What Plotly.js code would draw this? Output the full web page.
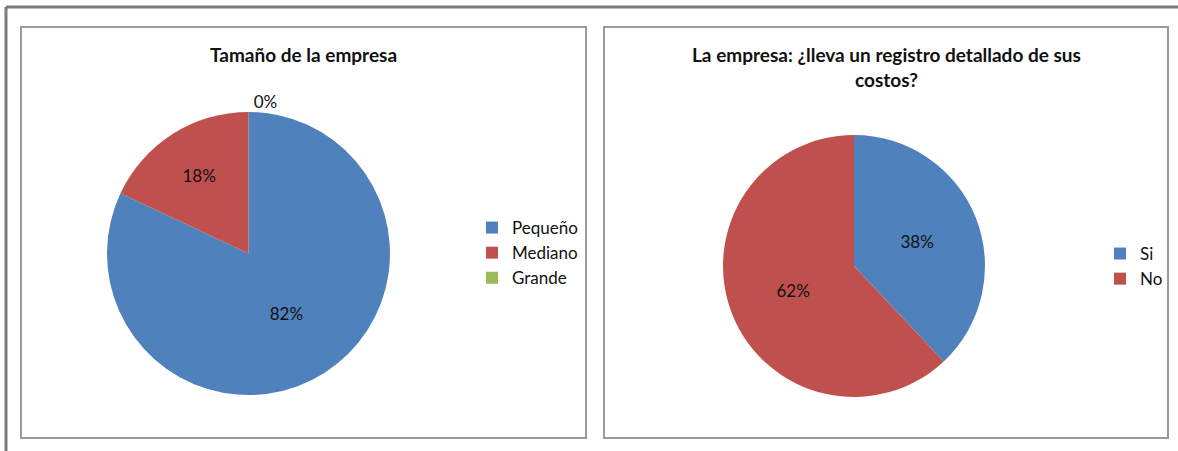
<!DOCTYPE html>
<html>
<head>
<meta charset="utf-8">
<script src="https://cdn.plot.ly/plotly-3.0.1.min.js"></script>
<style>html,body{margin:0;padding:0;background:#fff;}#chart{width:1178px;height:451px;}</style>
</head>
<body>
<div id="chart"></div>
<script>
// Data
var sizeLabels = ['Pequeño', 'Mediano', 'Grande'];
var sizeValues = [82, 18, 0];
var costLabels = ['Si', 'No'];
var costValues = [38, 62];
var sizeColors = ['#4F81BD', '#C0504D', '#9BBB59'];
var costColors = ['#4F81BD', '#C0504D'];
var title1 = 'Tamaño de la empresa';
var title2Lines = ['La empresa: ¿lleva un registro detallado de sus', 'costos?'];

var W = 1178, H = 451;
function px(x){return x / W;}
function py(y){return 1 - y / H;}

var font = 'Lato, "Open Sans", sans-serif';

var traces = [
  {
    type: 'pie', labels: sizeLabels, values: sizeValues, sort: false,
    direction: 'clockwise', rotation: 0,
    marker: {colors: sizeColors},
    textinfo: 'percent', texttemplate: '%{percent:.0%}',
    textposition: ['inside', 'inside', 'outside'],
    insidetextorientation: 'horizontal',
    textfont: {family: font, size: 17, color: '#111'},
    domain: {x: [px(106.5), px(390.5)], y: [py(395), py(112)]},
    legend: 'legend', showlegend: true, hoverinfo: 'label+percent'
  },
  {
    type: 'pie', labels: costLabels, values: costValues, sort: false,
    direction: 'clockwise', rotation: 0,
    marker: {colors: costColors},
    textinfo: 'percent', texttemplate: '%{percent:.0%}',
    textposition: 'inside',
    insidetextorientation: 'horizontal',
    textfont: {family: font, size: 17, color: '#111'},
    domain: {x: [px(723), px(985)], y: [py(398), py(134)]},
    legend: 'legend2', showlegend: true, hoverinfo: 'label+percent'
  }
];

var boxLine = {color: '#9a9a9a', width: 2};
var layout = {
  width: W, height: H,
  margin: {l: 0, r: 0, t: 0, b: 0},
  paper_bgcolor: '#fff',
  font: {family: font, color: '#111'},
  legend: {x: px(472), y: py(210), xanchor: 'left', yanchor: 'top',
    font: {family: font, size: 17, color: '#111'}, itemwidth: 30,
    bgcolor: 'rgba(0,0,0,0)'},
  legend2: {x: px(1100), y: py(236), xanchor: 'left', yanchor: 'top',
    font: {family: font, size: 17, color: '#111'}, itemwidth: 30,
    bgcolor: 'rgba(0,0,0,0)'},
  shapes: [
    {type: 'line', xref: 'paper', yref: 'paper', x0: px(6), x1: 1, y0: py(7), y1: py(7), line: {color: '#7a7a7a', width: 3}},
    {type: 'line', xref: 'paper', yref: 'paper', x0: px(6), x1: px(6), y0: py(7), y1: 0, line: {color: '#7a7a7a', width: 3}},
    {type: 'rect', xref: 'paper', yref: 'paper', x0: px(21), x1: px(586), y0: py(438), y1: py(27), line: boxLine},
    {type: 'rect', xref: 'paper', yref: 'paper', x0: px(604), x1: px(1168), y0: py(438), y1: py(27), line: boxLine}
  ],
  annotations: [
    {text: '<b>' + title1 + '</b>', xref: 'paper', yref: 'paper', x: px(303), y: py(54),
     xanchor: 'center', yanchor: 'middle', showarrow: false,
     font: {family: font, size: 19, color: '#111'}},
    {text: title2Lines.map(function(s){return '<b>' + s + '</b>';}).join('<br>'),
     xref: 'paper', yref: 'paper', x: px(886), y: py(67),
     xanchor: 'center', yanchor: 'middle', showarrow: false,
     font: {family: font, size: 19, color: '#111'}}
  ]
};

Plotly.newPlot('chart', traces, layout, {displayModeBar: false, staticPlot: true});
</script>
</body>
</html>
